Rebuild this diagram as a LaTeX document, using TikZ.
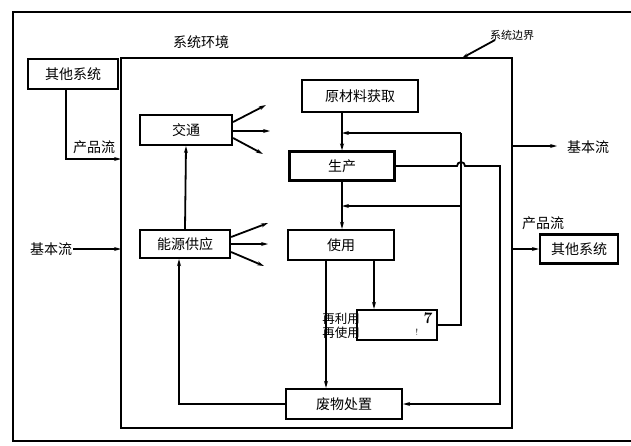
\documentclass[tikz,border=0pt]{standalone}
\usepackage{fontspec}
\newfontfamily\cjk{Noto Sans CJK SC}
\usetikzlibrary{arrows.meta}
\begin{document}
\begin{tikzpicture}[x=1pt,y=-1pt,
  box/.style={draw,line width=2.2pt,minimum width=#1,minimum height=30pt,inner sep=0pt,font=\cjk\fontsize{14}{16}\selectfont},
  ln/.style={line width=1.8pt},
  arr/.style={ln,-{Stealth[length=7pt,width=4pt]}},
  lbl/.style={font=\cjk\fontsize{14}{16}\selectfont,inner sep=1pt}]
\useasboundingbox (0,0) rectangle (631,445);
% outer frame and system boundary
\draw[line width=2.3pt] (640,12) -- (13,12) -- (13,441) -- (640,441);
\draw[line width=2.2pt] (121,58) rectangle (512,428);
% boxes
\node[box=90pt] (os1) at (73,74) {其他系统};
\node[box=92pt] (jt) at (186,130) {交通};
\node[box=90pt,minimum height=28pt] (ny) at (185,244) {能源供应};
\node[box=116pt,minimum height=32pt] (ycl) at (360,96) {原材料获取};
\node[box=105pt,minimum height=29pt] (sc) at (342,166) {生产};
\node[box=106pt] (sy) at (341,245) {使用};
\node[draw,line width=2.2pt,minimum width=80pt,minimum height=30pt,inner sep=0pt] (zly) at (397,325) {};
\node[box=116pt] (fw) at (344,404) {废物处置};
\node[box=78pt,minimum height=29pt] (os2) at (579,249) {其他系统};
% labels
\node[lbl] (env) at (201,42) {系统环境};
\node[lbl,font=\cjk\fontsize{11}{13}\selectfont] (bd) at (512,35) {系统边界};
\coordinate (bdst) at (495,40);
\coordinate (bdend) at (462,58);
\draw[ln,-{Stealth[length=6pt,width=3.5pt]}] (bdst) -- (bdend);
\node[lbl] (pl1) at (94,147) {产品流};
\node[lbl] (bl1) at (51,249) {基本流};
\node[lbl] (bl2) at (588,147) {基本流};
\node[lbl] (pl2) at (543,223) {产品流};
\node[lbl,align=left,font=\cjk\fontsize{12.5}{14}\selectfont] (zt) at (341,326) {再利用\\再使用};
\node[font=\bfseries\fontsize{16}{16}\selectfont,inner sep=0pt] (m7) at (428,318) {7};
\node[font=\fontsize{9}{9}\selectfont,inner sep=0pt] (m1) at (417,332) {!};
% left flows
\coordinate (pin) at (121,159);
\coordinate (bin) at (121,249);
\draw[arr] ([xshift=-7pt]os1.south) |- (pin);
\draw[arr] (bl1.east) -- (bin);
% right flows
\coordinate (bout1) at (512,146);
\coordinate (bend) at (557,146);
\draw[arr] (bout1) -- (bend);
\coordinate (pout2) at (512,249);
\draw[arr] (pout2) -- (os2.west);
% transport arrows
\coordinate (j1) at (266,105);
\coordinate (j2) at (270,131);
\coordinate (j3) at (263,154);
\draw[arr] ([yshift=8pt]jt.east) -- (j1);
\draw[arr] ([yshift=-1pt]jt.east) -- (j2);
\draw[arr] ([yshift=-8pt]jt.east) -- (j3);
% energy arrows
\coordinate (n1) at (268,223);
\coordinate (n2) at (268,244);
\coordinate (n3) at (264,266);
\draw[arr] ([yshift=7pt]ny.east) -- (n1);
\draw[arr] (ny.east) -- (n2);
\draw[arr] ([yshift=-8pt]ny.east) -- (n3);
% vertical links
\draw[arr] (ny.north) -- (jt.south);
\draw[arr] (fw.west) -| ([xshift=-6pt]ny.south);
\draw[arr] (ycl.south -| sc.north) -- (sc.north);
\draw[arr] (sc.south) -- (sc.south |- sy.north);
\draw[arr] ([xshift=-15pt]sy.south) -- ([xshift=-15pt]sy.south |- fw.north);
\draw[arr] ([xshift=33pt]sy.south) -- ([xshift=33pt]sy.south |- zly.north);
% feedback loops
\coordinate (f1) at (461,133);
\coordinate (f2) at (461,206);
\draw[ln] (zly.east) -| (f1);
\draw[arr] (f1) -- (f1 -| sc.north);
\draw[arr] (f2) -- (f2 -| sc.north);
\draw[arr] (sc.east) -- (457,166) arc[start angle=180,end angle=0,radius=4pt] -- (500,166) |- (fw.east);
\end{tikzpicture}
\end{document}
